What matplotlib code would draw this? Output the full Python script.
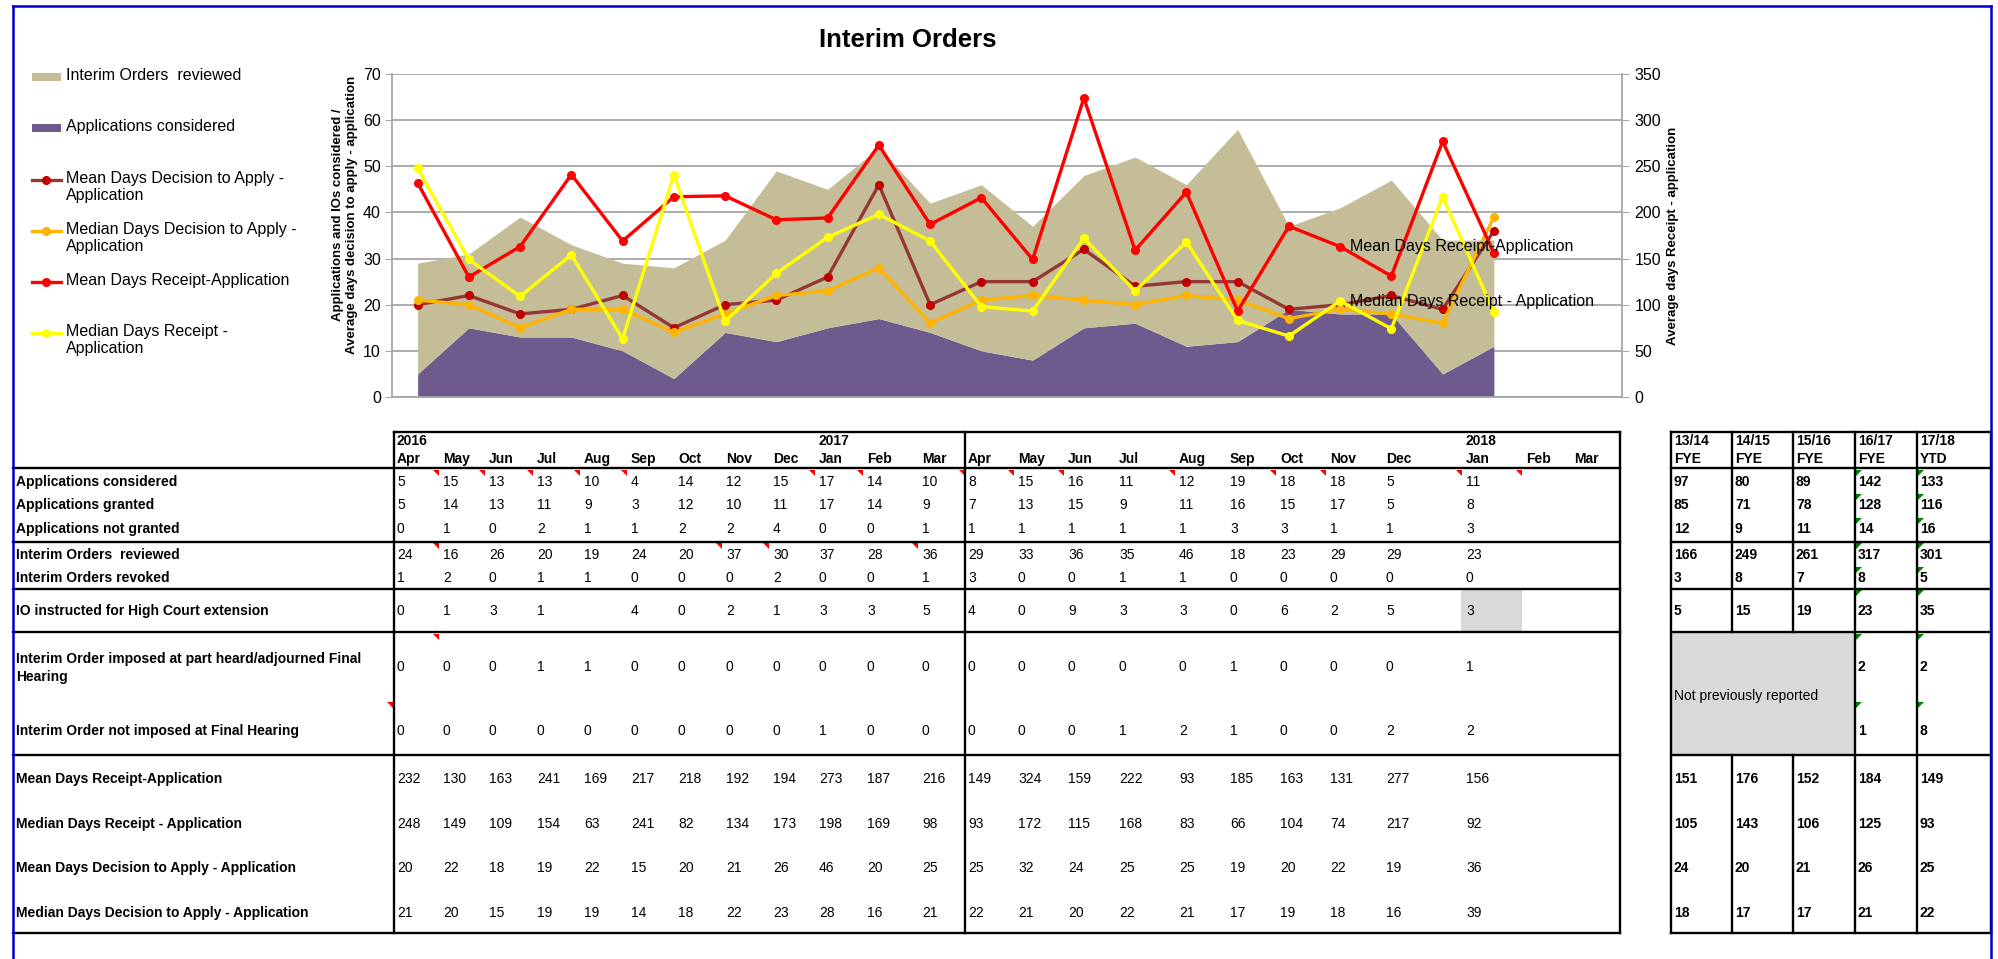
import numpy as np
import matplotlib.pyplot as plt
from matplotlib import font_manager
from matplotlib.patches import Rectangle, Polygon
from matplotlib.lines import Line2D

installed = {f.name for f in font_manager.fontManager.ttflist}
NARROW = "Liberation Sans Narrow" if "Liberation Sans Narrow" in installed else "Liberation Sans"
plt.rcParams["font.family"] = [NARROW, "DejaVu Sans"]

# ---- data -------------------------------------------------------------
months = ["Apr", "May", "Jun", "Jul", "Aug", "Sep", "Oct", "Nov", "Dec", "Jan", "Feb", "Mar",
          "Apr", "May", "Jun", "Jul", "Aug", "Sep", "Oct", "Nov", "Dec", "Jan", "Feb", "Mar"]
year_labels = {0: "2016", 9: "2017", 21: "2018"}

apps_considered = [5, 15, 13, 13, 10, 4, 14, 12, 15, 17, 14, 10, 8, 15, 16, 11, 12, 19, 18, 18, 5, 11]
apps_granted = [5, 14, 13, 11, 9, 3, 12, 10, 11, 17, 14, 9, 7, 13, 15, 9, 11, 16, 15, 17, 5, 8]
apps_not_granted = [0, 1, 0, 2, 1, 1, 2, 2, 4, 0, 0, 1, 1, 1, 1, 1, 1, 3, 3, 1, 1, 3]
io_reviewed = [24, 16, 26, 20, 19, 24, 20, 37, 30, 37, 28, 36, 29, 33, 36, 35, 46, 18, 23, 29, 29, 23]
io_revoked = [1, 2, 0, 1, 1, 0, 0, 0, 2, 0, 0, 1, 3, 0, 0, 1, 1, 0, 0, 0, 0, 0]
io_high_court = [0, 1, 3, 1, None, 4, 0, 2, 1, 3, 3, 5, 4, 0, 9, 3, 3, 0, 6, 2, 5, 3]
io_imposed_part_heard = [0, 0, 0, 1, 1, 0, 0, 0, 0, 0, 0, 0, 0, 0, 0, 0, 0, 1, 0, 0, 0, 1]
io_not_imposed_final = [0, 0, 0, 0, 0, 0, 0, 0, 0, 1, 0, 0, 0, 0, 0, 1, 2, 1, 0, 0, 2, 2]
mean_receipt = [232, 130, 163, 241, 169, 217, 218, 192, 194, 273, 187, 216,
                149, 324, 159, 222, 93, 185, 163, 131, 277, 156]
median_receipt = [248, 149, 109, 154, 63, 241, 82, 134, 173, 198, 169, 98,
                  93, 172, 115, 168, 83, 66, 104, 74, 217, 92]
mean_decision = [20, 22, 18, 19, 22, 15, 20, 21, 26, 46, 20, 25, 25, 32, 24, 25, 25, 19, 20, 22, 19, 36]
median_decision = [21, 20, 15, 19, 19, 14, 18, 22, 23, 28, 16, 21, 22, 21, 20, 22, 21, 17, 19, 18, 16, 39]

summary_headers = [("13/14", "FYE"), ("14/15", "FYE"), ("15/16", "FYE"), ("16/17", "FYE"), ("17/18", "YTD")]
summary_considered = [97, 80, 89, 142, 133]
summary_granted = [85, 71, 78, 128, 116]
summary_not_granted = [12, 9, 11, 14, 16]
summary_reviewed = [166, 249, 261, 317, 301]
summary_revoked = [3, 8, 7, 8, 5]
summary_high_court = [5, 15, 19, 23, 35]
summary_imposed_part_heard = [None, None, None, 2, 2]
summary_not_imposed_final = [None, None, None, 1, 8]
summary_mean_receipt = [151, 176, 152, 184, 149]
summary_median_receipt = [105, 143, 106, 125, 93]
summary_mean_decision = [24, 20, 21, 26, 25]
summary_median_decision = [18, 17, 17, 21, 22]

series_names = ["Interim Orders  reviewed", "Applications considered",
                "Mean Days Decision to Apply -\nApplication", "Median Days Decision to Apply -\nApplication",
                "Mean Days Receipt-Application", "Median Days Receipt -\nApplication"]

TAN = "#c4bd97"
PURPLE = "#6f5a8e"
DARK_RED = "#953735"
ORANGE = "#ffb400"
RED = "#ff0000"
YELLOW = "#ffff00"
GRID = "#a6a6a6"

# ---- figure -----------------------------------------------------------
W, H = 1999, 959
fig = plt.figure(figsize=(W / 100, H / 100), dpi=100)


def fx(px):
    return px / W


def fy(py):
    return 1 - py / H


ax = fig.add_axes([fx(392), fy(397), fx(1622) - fx(392), fy(74) - fy(397)])
x = np.arange(len(apps_considered))
considered = np.array(apps_considered)
stacked = considered + np.array(io_reviewed)

ax.fill_between(x, 0, considered, color=PURPLE, lw=0, zorder=2)
ax.fill_between(x, considered, stacked, color=TAN, lw=0, zorder=2)
ax.plot(x, mean_decision, color=DARK_RED, lw=2.4, marker="o", ms=5.5,
        mfc="#c00000", mec="#c00000", zorder=3)
ax.plot(x, median_decision, color=ORANGE, lw=2.4, marker="o", ms=5.5,
        mfc=ORANGE, mec=ORANGE, zorder=3)

ax.set_xlim(-0.5, len(months) - 0.5)
ax.set_ylim(0, 70)
ax.set_yticks(range(0, 71, 10))
ax.set_xticks([])
ax.yaxis.grid(True, color=GRID, lw=1.3)
ax.set_axisbelow(True)
for side in ["top", "right"]:
    ax.spines[side].set_visible(False)
for side in ["left", "bottom"]:
    ax.spines[side].set_color(GRID)
    ax.spines[side].set_linewidth(1.3)
ax.tick_params(axis="y", direction="out", length=5, color=GRID, labelsize=11.5, pad=3)

ax2 = ax.twinx()
ax2.plot(x, mean_receipt, color=RED, lw=2.4, marker="o", ms=5.5, mfc=RED, mec=RED, zorder=3)
ax2.plot(x, median_receipt, color=YELLOW, lw=2.4, marker="o", ms=5.5, mfc=YELLOW, mec=YELLOW, zorder=3)
ax2.set_ylim(0, 350)
ax2.set_yticks(range(0, 351, 50))
for side in ["top", "left", "bottom"]:
    ax2.spines[side].set_visible(False)
ax2.spines["right"].set_color(GRID)
ax2.spines["right"].set_linewidth(1.3)
ax2.tick_params(axis="y", direction="out", length=5, color=GRID, labelsize=11.5, pad=4)

# data labels at Oct 2017
lab_i = 18
ax2.annotate(series_names[4], (lab_i, mean_receipt[lab_i]), xytext=(7, 0),
             textcoords="offset points", va="center", fontsize=11.5)
ax2.annotate(series_names[5].replace("\n", " "), (lab_i, median_receipt[lab_i]), xytext=(7, 0),
             textcoords="offset points", va="center", fontsize=11.5)

# overlay in pixel space for titles, legend and table
ov = fig.add_axes([0, 0, 1, 1], zorder=-1)
ov.set_xlim(0, W)
ov.set_ylim(H, 0)
ov.axis("off")
top = fig.add_axes([0, 0, 1, 1], zorder=5)
top.set_xlim(0, W)
top.set_ylim(H, 0)
top.axis("off")
top.patch.set_alpha(0)

top.text(908, 40, "Interim Orders", fontsize=18.5, fontweight="bold", ha="center", va="center")
top.text(345, 215, "Applications and IOs considered /\nAverage days decision to apply - application",
         family="Liberation Sans", fontsize=9.5, fontweight="bold", rotation=90,
         ha="center", va="center", multialignment="center", linespacing=1.15)
top.text(1673, 236, "Average days Receipt - application", family="Liberation Sans", fontsize=9.5,
         fontweight="bold", rotation=90, ha="center", va="center")

# legend
leg_y = [77, 128, 180, 231, 282, 333]
top.add_patch(Rectangle((32, leg_y[0] - 4), 29, 8, color=TAN, lw=0))
top.add_patch(Rectangle((32, leg_y[1] - 4), 29, 8, color=PURPLE, lw=0))
line_styles = [(DARK_RED, "#c00000"), (ORANGE, ORANGE), (RED, RED), (YELLOW, YELLOW)]
for k, (lc, mc) in enumerate(line_styles):
    yy = leg_y[k + 2]
    top.add_line(Line2D([32, 61], [yy, yy], color=lc, lw=2.4))
    top.add_line(Line2D([46.5], [yy], marker="o", ms=5.5, color=mc))
for name, yy in zip(series_names, leg_y):
    top.text(66, yy - 9, name, fontsize=11.5, va="top", ha="left", linespacing=1.15)

# ---- table -------------------------------------------------------------
col_x = [397, 443, 489, 537, 584, 631, 678, 726, 773, 819, 867, 922,
         968, 1018, 1068, 1119, 1179, 1230, 1280, 1330, 1386, 1466, 1526, 1574]
sum_x = [1671, 1732, 1793, 1855, 1917, 1991]
LEFT, T_LEFT, T_RIGHT = 13, 394, 1620
FS = 10

rows = [
    ("Applications considered", apps_considered, summary_considered, 482),
    ("Applications granted", apps_granted, summary_granted, 505),
    ("Applications not granted", apps_not_granted, summary_not_granted, 529),
    ("Interim Orders  reviewed", io_reviewed, summary_reviewed, 555),
    ("Interim Orders revoked", io_revoked, summary_revoked, 578),
    ("IO instructed for High Court extension", io_high_court, summary_high_court, 611),
    ("Interim Order imposed at part heard/adjourned Final\nHearing", io_imposed_part_heard,
     summary_imposed_part_heard, 667),
    ("Interim Order not imposed at Final Hearing", io_not_imposed_final, summary_not_imposed_final, 731),
    ("Mean Days Receipt-Application", mean_receipt, summary_mean_receipt, 779),
    ("Median Days Receipt - Application", median_receipt, summary_median_receipt, 824),
    ("Mean Days Decision to Apply - Application", mean_decision, summary_mean_decision, 868),
    ("Median Days Decision to Apply - Application", median_decision, summary_median_decision, 913),
]
row_tops = [470, 494, 518, 543, 567, 590, 634, 702]

# grey cells
ov.add_patch(Rectangle((1461, 589), 61, 43, color="#d9d9d9", lw=0))
ov.add_patch(Rectangle((sum_x[0], 632), sum_x[3] - sum_x[0], 123, color="#d9d9d9", lw=0))
top.text(sum_x[0] + 3, 696, "Not previously reported", fontsize=FS, va="center")

# header
for i, m in enumerate(months):
    top.text(col_x[i], 459, m, fontsize=FS, fontweight="bold", va="center")
for i, yr in year_labels.items():
    top.text(col_x[i], 441, yr, fontsize=FS, fontweight="bold", va="center")
for j, (h1, h2) in enumerate(summary_headers):
    top.text(sum_x[j] + 3, 441, h1, fontsize=FS, fontweight="bold", va="center")
    top.text(sum_x[j] + 3, 459, h2, fontsize=FS, fontweight="bold", va="center")

for label, vals, svals, yy in rows:
    top.text(16, yy + (1 if "\n" in label else 0), label, fontsize=FS, fontweight="bold",
             va="center", linespacing=1.3)
    for i, v in enumerate(vals):
        if v is not None:
            top.text(col_x[i], yy, str(v), fontsize=FS, va="center")
    for j, v in enumerate(svals):
        if v is not None:
            top.text(sum_x[j] + 3, yy, str(v), fontsize=FS, fontweight="bold", va="center")

# rules
LW = 1.7
for yy in [468, 542, 589, 632, 755, 933]:
    top.add_line(Line2D([LEFT, T_RIGHT], [yy, yy], color="black", lw=LW))
    top.add_line(Line2D([sum_x[0], sum_x[-1]], [yy, yy], color="black", lw=LW))
top.add_line(Line2D([T_LEFT, T_RIGHT], [432, 432], color="black", lw=LW))
top.add_line(Line2D([sum_x[0], sum_x[-1]], [432, 432], color="black", lw=LW))
for xx in [T_LEFT, 965, T_RIGHT]:
    top.add_line(Line2D([xx, xx], [432, 933], color="black", lw=LW))
for j, xx in enumerate(sum_x):
    if j in (1, 2):
        top.add_line(Line2D([xx, xx], [432, 632], color="black", lw=LW))
        top.add_line(Line2D([xx, xx], [755, 933], color="black", lw=LW))
    else:
        top.add_line(Line2D([xx, xx], [432, 933], color="black", lw=LW))

# comment markers (red) and error markers (green)
red_marks = {0: [1, 2, 3, 4, 5, 9, 10, 12, 13, 14, 16, 18, 19, 21, 22],
             3: [1, 7, 8, 11],
             6: [1]}
for r, cols in red_marks.items():
    t = row_tops[r]
    for c in cols:
        bx = 965 if c == 12 else col_x[c] - 4
        top.add_patch(Polygon([(bx - 6, t), (bx, t), (bx, t + 6)], color="red", lw=0))
top.add_patch(Polygon([(T_LEFT - 7, row_tops[7]), (T_LEFT - 1, row_tops[7]),
                       (T_LEFT - 1, row_tops[7] + 6)], color="red", lw=0))
for t in row_tops:
    for j in (3, 4):
        lx = sum_x[j] + 1
        top.add_patch(Polygon([(lx, t), (lx + 6, t), (lx, t + 6)], color="#008000", lw=0))

# frame
for xs, ys in [([LEFT, 1991], [6, 6]), ([LEFT, LEFT], [6, H]), ([1991, 1991], [6, H])]:
    top.add_line(Line2D(xs, ys, color="#0000cc", lw=1.8))

fig.savefig("out.png", dpi=100)
